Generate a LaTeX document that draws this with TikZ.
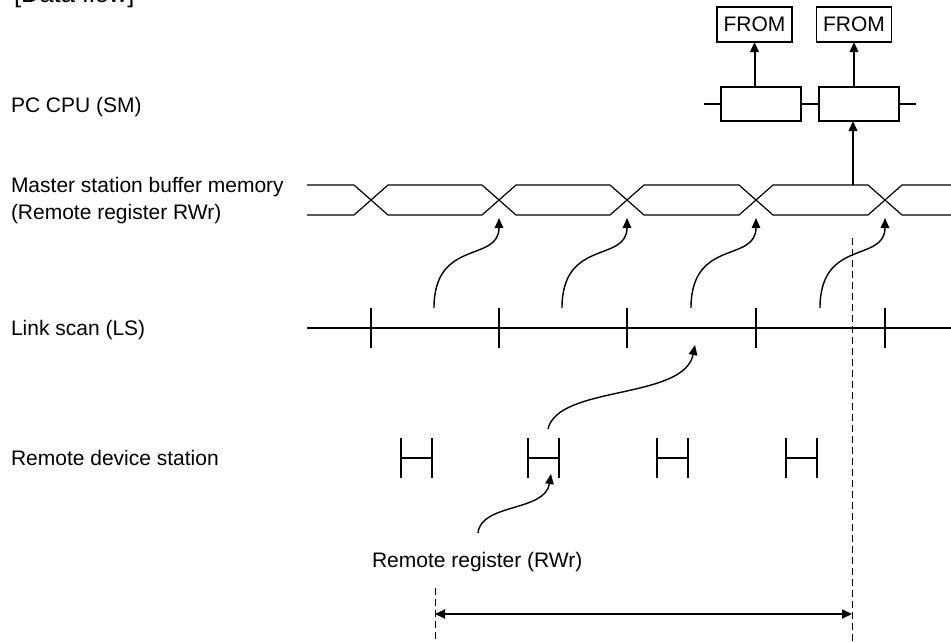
\documentclass[tikz,border=0pt]{standalone}
\usepackage{fontspec}
\setmainfont{Liberation Sans}
\usetikzlibrary{arrows.meta,calc}
\begin{document}
\begin{tikzpicture}[x=1pt,y=-1pt,
  every node/.style={inner sep=0pt,outer sep=0pt,font=\fontsize{21}{25}\selectfont},
  lbl/.style={anchor=base west},
  frombox/.style={draw,line width=1.3pt,minimum width=75pt,minimum height=35pt},
  cpubox/.style={draw,line width=1.3pt,minimum width=80pt,minimum height=34pt},
  thin line/.style={line width=1.2pt},
  thick line/.style={line width=2pt},
  tip/.style={-{Triangle[length=10pt,width=8.5pt]}},
  curvearrow/.style={line width=1.4pt,-{Triangle[length=10pt,width=8.5pt]}},
  dashline/.style={line width=1pt,dash pattern=on 7pt off 4pt},
  hbar/.style={line width=1.6pt}
]
\useasboundingbox (0,0) rectangle (951,641);

% labels
\node[lbl,font=\fontsize{25.5}{30}\selectfont] (title) at (14,2) {[Data flow]};
\node[lbl] (cpu) at (11,112) {PC CPU (SM)};
\node[lbl] (msb1) at (11,192) {Master station buffer memory};
\node[lbl] (msb2) at (11,219) {(Remote register RWr)};
\node[lbl] (ls) at (11,335) {Link scan (LS)};
\node[lbl] (rds) at (11,465) {Remote device station};
\node[lbl] (rreg) at (372,567) {Remote register (RWr)};

% PC CPU
\node[frombox] (f1) at (754.5,24.5) {FROM};
\node[frombox] (f2) at (854,24.5) {FROM};
\node[cpubox] (r1) at (761,104) {};
\node[cpubox] (r2) at (859,104) {};
\coordinate (cl) at (704,104);
\coordinate (cr) at (916,104);
\draw[thick line] (cl) -- (r1.west);
\draw[thick line] (r1.east) -- (r2.west);
\draw[thick line] (r2.east) -- (cr);
\draw[thick line,tip] (r1.north -| f1.south) -- (f1.south);
\draw[thick line,tip] (r2.north -| f2.south) -- (f2.south);

% buffer memory waveform
\def\cA{371}\def\cB{499}\def\cC{627}\def\cD{756}\def\cE{885}
\draw[thin line] (307,185) -- (\cA-17,185) -- (\cA+17,215) -- (\cB-17,215) -- (\cB+17,185)
  -- (\cC-17,185) -- (\cC+17,215) -- (\cD-17,215) -- (\cD+17,185) -- (\cE-17,185) -- (\cE+17,215) -- (951,215);
\draw[thin line] (307,215) -- (\cA-17,215) -- (\cA+17,185) -- (\cB-17,185) -- (\cB+17,215)
  -- (\cC-17,215) -- (\cC+17,185) -- (\cD-17,185) -- (\cD+17,215) -- (\cE-17,215) -- (\cE+17,185) -- (951,185);
\coordinate (bufsrc) at (853,185);
\draw[thick line,tip] (bufsrc) -- (bufsrc |- r2.south);

% link scan
\coordinate (lsl) at (307,328);
\coordinate (lsr) at (951,328);
\draw[thick line] (lsl) -- (lsr);
\foreach \c in {\cA,\cB,\cC,\cD,\cE} {
  \draw[thick line] (\c,308) -- (\c,348);
}

% curved arrows link scan -> buffer
\foreach \c [count=\i] in {\cB,\cC,\cD,\cE} {
  \coordinate (s\i) at (\c-65,308);
  \coordinate (t\i) at (\c,218);
  \draw[curvearrow] (s\i) .. controls ($(s\i)+(0,-70)$) and ($(t\i)+(0,45)$) .. (t\i);
}

% remote device stations
\foreach \x [count=\i] in {401,528,657,786} {
  \coordinate (h\i) at (\x,458);
  \draw[hbar] (\x,438) -- (\x,478);
  \draw[hbar] (\x+31,438) -- (\x+31,478);
  \draw[hbar] (\x,458) -- (\x+31,458);
}

% curve H2 -> link scan
\coordinate (hs) at (548,429);
\coordinate (lst) at (695,345);
\draw[curvearrow] (hs) .. controls (558,385) and (684,400) .. (lst);

% curve label -> H2
\coordinate (rs) at (478,533);
\coordinate (rt) at (551,474);
\draw[curvearrow] (rs) .. controls (481,503) and (545,512) .. (rt);

% dashed lines and span arrow
\coordinate (d1t) at (852,238);
\coordinate (d1b) at (852,641);
\coordinate (d2t) at (435,588);
\coordinate (d2b) at (435,641);
\draw[dashline] (d1t) -- (d1b);
\draw[dashline] (d2t) -- (d2b);
\coordinate (al) at (435,614);
\coordinate (ar) at (852,614);
\draw[thick line,{Triangle[length=10pt,width=9pt]}-{Triangle[length=10pt,width=9pt]}] (al) -- (ar);
\end{tikzpicture}
\end{document}
